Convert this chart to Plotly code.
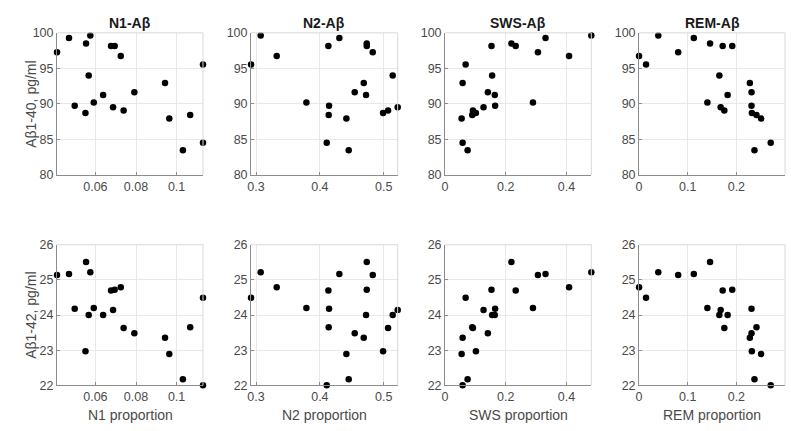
import plotly.graph_objects as go

# Subjects A..U
n1 = [0.0411, 0.0470, 0.0575, 0.0554, 0.0677, 0.0695, 0.0725, 0.0567, 0.0498, 0.0551, 0.0592,
      0.0638, 0.0687, 0.0739, 0.0792, 0.0943, 0.0964, 0.1067, 0.1031, 0.1130, 0.1130]
n2 = [0.4828, 0.4305, 0.3073, 0.4734, 0.4133, 0.4734, 0.3324, 0.5141, 0.4144, 0.4990, 0.3789,
      0.4723, 0.5219, 0.5068, 0.4546, 0.4687, 0.4415, 0.4138, 0.4452, 0.2922, 0.4107]
sws = [0.3060, 0.3311, 0.4820, 0.2186, 0.2328, 0.1530, 0.4087, 0.1552, 0.1650, 0.1016, 0.2896,
       0.1639, 0.1268, 0.0918, 0.1410, 0.0579, 0.0546, 0.0896, 0.0743, 0.0678, 0.0579]
rem = [0.0804, 0.1125, 0.0395, 0.1459, 0.1718, 0.1915, 0.0000, 0.1650, 0.2311, 0.2318, 0.1404,
       0.1820, 0.1677, 0.1752, 0.2311, 0.2277, 0.2509, 0.2413, 0.2372, 0.0143, 0.2706]
ab40 = [97.28, 99.27, 99.64, 98.50, 98.14, 98.14, 96.73, 94.00, 89.75, 88.71, 90.20,
        91.25, 89.52, 89.07, 91.66, 92.93, 87.94, 88.44, 83.49, 95.56, 84.54]
ab42 = [25.14, 25.17, 25.22, 25.51, 24.70, 24.72, 24.79, 24.00, 24.18, 22.97, 24.20,
        24.00, 24.14, 23.63, 23.48, 23.35, 22.89, 23.65, 22.17, 24.49, 22.00]

titles = ["N1-Aβ", "N2-Aβ", "SWS-Aβ", "REM-Aβ"]
xlabels = ["N1 proportion", "N2 proportion", "SWS proportion", "REM proportion"]
xranges = [[0.0411, 0.1130], [0.2922, 0.5219], [0, 0.482], [0, 0.3]]
xticks = [[0.06, 0.08, 0.1], [0.3, 0.4, 0.5], [0, 0.2, 0.4], [0, 0.1, 0.2, 0.3]]
yranges = [[80, 100], [22, 26]]
yticks = [[80, 85, 90, 95, 100], [22, 23, 24, 25, 26]]
ylabels = ["Aβ1-40, pg/ml", "Aβ1-42, pg/ml"]
stage_x = [n1, n2, sws, rem]
yvals = [ab40, ab42]

W, H = 791, 431
xpx = [(53.3, 200.0), (248.3, 395.7), (443.3, 590.3), (638.3, 785.0)]
ypx = [(26.7, 173.7), (245.7, 391.0)]

FONT = "Liberation Sans, Arial, Helvetica, sans-serif"
TXT = "#4a4a4a"
AX = "#8c8c8c"
GRID = "#e8e8e8"

fig = go.Figure()
layout = dict(width=W, height=H, margin=dict(l=0, r=0, t=0, b=0),
              paper_bgcolor="white", plot_bgcolor="white", showlegend=False,
              font=dict(family=FONT, size=12, color=TXT))
annotations = []
shapes = []
k = 0
for r in range(2):
    for c in range(4):
        k += 1
        xa = "xaxis" if k == 1 else f"xaxis{k}"
        ya = "yaxis" if k == 1 else f"yaxis{k}"
        xr = "x" if k == 1 else f"x{k}"
        yr = "y" if k == 1 else f"y{k}"
        fig.add_trace(go.Scatter(x=stage_x[c], y=yvals[r], mode="markers", xaxis=xr, yaxis=yr,
                                 marker=dict(color="black", size=6.5), cliponaxis=False,
                                 hoverinfo="x+y"))
        x0, x1 = xpx[c]
        y0, y1 = ypx[r]
        layout[xa] = dict(domain=[x0 / W, x1 / W], range=xranges[c], tickvals=xticks[c],
                          ticktext=[("%g" % v) for v in xticks[c]],
                          showgrid=True, gridcolor=GRID, zeroline=False, showline=True,
                          linecolor=AX, linewidth=1, ticks="inside", ticklen=3, tickcolor=AX,
                          anchor=yr, tickfont=dict(size=12.5, color=TXT), fixedrange=True)
        layout[ya] = dict(domain=[1 - y1 / H, 1 - y0 / H], range=yranges[r], tickvals=yticks[r],
                          showgrid=True, gridcolor=GRID, zeroline=False, showline=True,
                          linecolor=AX, linewidth=1, ticks="inside", ticklen=3, tickcolor=AX,
                          anchor=xr, tickfont=dict(size=12.5, color=TXT), fixedrange=True)
        shapes.append(dict(type="line", xref=f"{xr} domain", yref=f"{yr} domain",
                           x0=0, x1=1, y0=1, y1=1, line=dict(color="#d9d9d9", width=1)))
        shapes.append(dict(type="line", xref=f"{xr} domain", yref=f"{yr} domain",
                           x0=1, x1=1, y0=0, y1=1, line=dict(color="#d9d9d9", width=1)))
        if r == 0:
            annotations.append(dict(text="<b>" + titles[c] + "</b>", xref="paper", yref="paper",
                                    x=(x0 + x1) / 2 / W, y=1 - 17 / H, showarrow=False,
                                    xanchor="center", yanchor="middle",
                                    font=dict(size=14, color="#1a1a1a", family=FONT)))
        else:
            annotations.append(dict(text=xlabels[c], xref="paper", yref="paper",
                                    x=(x0 + x1) / 2 / W, y=1 - 421.5 / H, showarrow=False,
                                    xanchor="center", yanchor="middle",
                                    font=dict(size=14, color=TXT, family=FONT)))
        if c == 0:
            annotations.append(dict(text=ylabels[r], xref="paper", yref="paper",
                                    x=27 / W, y=1 - (y0 + y1) / 2 / H, showarrow=False,
                                    textangle=-90, xanchor="center", yanchor="middle",
                                    font=dict(size=14, color=TXT, family=FONT)))

layout["annotations"] = annotations
layout["shapes"] = shapes
fig.update_layout(**layout)
fig.write_html("out.html")
